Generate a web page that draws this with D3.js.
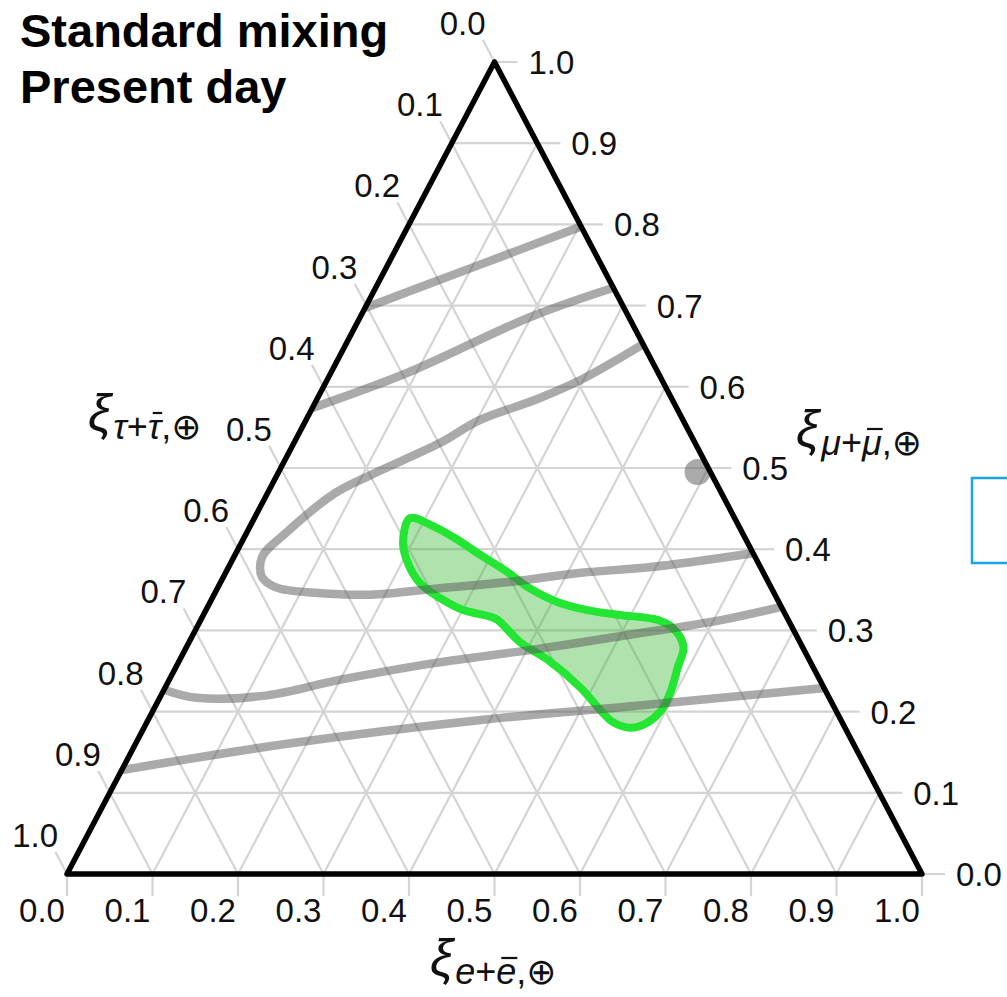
<!DOCTYPE html>
<html>
<head>
<meta charset="utf-8">
<script src="https://cdn.jsdelivr.net/npm/d3@7"></script>
<style>
  body { margin: 0; background: #fff; }
  svg { display: block; }
</style>
</head>
<body>
<div class="ternary"></div>
<script>
// all points are [xi_e, xi_mu], xi_tau = 1 - xi_e - xi_mu
const tickValues = [0.0, 0.1, 0.2, 0.3, 0.4, 0.5, 0.6, 0.7, 0.8, 0.9, 1.0];
const tickLabels = ["0.0", "0.1", "0.2", "0.3", "0.4", "0.5", "0.6", "0.7", "0.8", "0.9", "1.0"];
const titleLines = ["Standard mixing", "Present day"];

// gray flavor tracks
const track1 = [[0.0, 0.697], [0.103, 0.748], [0.204, 0.798]];
const track2 = [[0.0, 0.574], [0.089, 0.617], [0.199, 0.686], [0.278, 0.722]];
const track3 = [[0.346, 0.651], [0.296, 0.608], [0.256, 0.584], [0.203, 0.559], [0.171, 0.531],
  [0.109, 0.491], [0.079, 0.469], [0.046, 0.420], [0.033, 0.390], [0.045, 0.366],
  [0.068, 0.353], [0.121, 0.346], [0.183, 0.344], [0.260, 0.352], [0.340, 0.360],
  [0.416, 0.371], [0.494, 0.378], [0.605, 0.395]];
const track4 = [[0.0, 0.227], [0.043, 0.217], [0.124, 0.220], [0.199, 0.239], [0.301, 0.260],
  [0.405, 0.276], [0.507, 0.294], [0.610, 0.313], [0.671, 0.329]];
const track5 = [[0.0, 0.128], [0.181, 0.161], [0.392, 0.190], [0.551, 0.206], [0.771, 0.229]];
const tracks = [track1, track2, track3, track4, track5];

// green allowed region
const region = [[0.182, 0.438], [0.210, 0.430], [0.244, 0.415], [0.287, 0.393], [0.329, 0.372],
  [0.365, 0.352], [0.406, 0.335], [0.446, 0.325], [0.487, 0.319], [0.534, 0.313],
  [0.557, 0.303], [0.581, 0.280], [0.587, 0.255], [0.594, 0.223], [0.594, 0.200],
  [0.585, 0.186], [0.569, 0.180], [0.545, 0.187], [0.528, 0.198], [0.485, 0.230],
  [0.430, 0.264], [0.388, 0.285], [0.347, 0.313], [0.336, 0.317], [0.301, 0.325],
  [0.266, 0.340], [0.234, 0.358], [0.209, 0.381], [0.189, 0.408]];

const sourcePoint = [0.49, 0.495];

const width = 1007, height = 997;
const svg = d3.select(".ternary").append("svg")
  .attr("width", width)
  .attr("height", height)
  .attr("viewBox", [0, 0, width, height]);

const x = d3.scaleLinear().domain([0, 1]).range([67, 922]);
const y = d3.scaleLinear().domain([0, 1]).range([874, 62]);
const pt = ([e, mu]) => [x(e + mu / 2), y(mu)];
const line = d3.line().x(d => pt(d)[0]).y(d => pt(d)[1]);

const gridColor = "#d4d4d4";
const font = "'Liberation Sans', Arial, 'DejaVu Sans', sans-serif";
const L = 0.027; // tick length in ternary units

//GRID + TICKS
const grid = svg.append("g")
  .attr("stroke", gridColor)
  .attr("stroke-width", 2.2)
  .attr("fill", "none");

tickValues.forEach(v => {
  if (v > 0 && v < 1) {
    grid.append("path").attr("d", line([[0, v], [1 - v, v]]));      // const mu
    grid.append("path").attr("d", line([[v, 0], [v, 1 - v]]));      // const e
    grid.append("path").attr("d", line([[0, 1 - v], [1 - v, 0]])); // const tau
  }
  grid.append("path").attr("d", line([[1 - v, v], [1 - v + L, v]]));   // right
  grid.append("path").attr("d", line([[v, 0], [v + L / 2, -L]]));        // bottom
  grid.append("path").attr("d", line([[0, 1 - v], [-L, 1 - v + L]]));   // left
});

//LABELS
const labels = svg.append("g")
  .attr("font-family", font)
  .attr("font-size", 33)
  .attr("fill", "#111");

tickValues.forEach((v, i) => {
  const b = pt([v, 0]);
  labels.append("text").attr("x", b[0] - 25).attr("y", b[1] + 48)
    .attr("text-anchor", "middle").text(tickLabels[i]);
  const r = pt([1 - v, v]);
  labels.append("text").attr("x", r[0] + 34).attr("y", r[1] + 12)
    .text(tickLabels[i]);
  const l = pt([0, 1 - v]);
  labels.append("text").attr("x", l[0] - 9).attr("y", l[1] - 27)
    .attr("text-anchor", "end").text(tickLabels[i]);
});

//REGION
const regionLine = d3.line().x(d => pt(d)[0]).y(d => pt(d)[1]).curve(d3.curveCatmullRomClosed);
svg.append("path")
  .attr("d", regionLine(region))
  .attr("fill", "rgb(58,182,53)")
  .attr("fill-opacity", 0.4)
  .attr("stroke", "#22e632")
  .attr("stroke-width", 8)
  .attr("stroke-linejoin", "round");

//TRACKS
const trackLine = d3.line().x(d => pt(d)[0]).y(d => pt(d)[1]).curve(d3.curveCatmullRom);
svg.append("g")
  .selectAll("path")
  .data(tracks)
  .join("path")
  .attr("d", trackLine)
  .attr("fill", "none")
  .attr("stroke", "#555")
  .attr("stroke-opacity", 0.5)
  .attr("stroke-width", 8.5)
  .attr("stroke-linecap", "butt");

svg.append("circle")
  .attr("cx", pt(sourcePoint)[0])
  .attr("cy", pt(sourcePoint)[1])
  .attr("r", 13)
  .attr("fill", "#555")
  .attr("fill-opacity", 0.5);

//TRIANGLE
svg.append("path")
  .attr("d", line([[0, 0], [1, 0], [0, 1]]) + "Z")
  .attr("fill", "none")
  .attr("stroke", "#000")
  .attr("stroke-width", 5.5)
  .attr("stroke-linejoin", "round");

//AXIS TITLES  (letter, italic?, overbar?)
const axisTitles = [
  { x: 430, y: 976, sub: [["e", true, false], ["+", false, false], ["e", true, true], [",⊕", false, false]] },
  { x: 88, y: 431, sub: [["τ", true, false], ["+", false, false], ["τ", true, true], [",⊕", false, false]] },
  { x: 796, y: 447, sub: [["μ", true, false], ["+", false, false], ["μ", true, true], [",⊕", false, false]] }
];
axisTitles.forEach(t => {
  const txt = svg.append("text")
    .attr("x", t.x).attr("y", t.y)
    .attr("font-family", font)
    .attr("fill", "#111");
  txt.append("tspan").attr("font-size", 52).attr("font-style", "italic").text("ξ");
  t.sub.forEach((s, i) => {
    txt.append("tspan")
      .attr("dy", i == 0 ? 8 : null)
      .attr("dx", i == 0 ? 2 : null)
      .attr("font-size", 36)
      .attr("font-style", s[1] ? "italic" : "normal")
      .attr("class", s[2] ? "bar" : null)
      .text(s[0]);
  });
});

// overbars on the anti-particle letters
svg.selectAll("tspan.bar").each(function() {
  const n = this.getNumberOfChars();
  const start = this.getStartPositionOfChar(0);
  const end = this.getEndPositionOfChar(n - 1);
  svg.append("line")
    .attr("x1", start.x + 5).attr("x2", end.x + 1)
    .attr("y1", start.y - 26).attr("y2", start.y - 26)
    .attr("stroke", "#111")
    .attr("stroke-width", 2.2);
});

//TITLE
svg.append("g")
  .selectAll("text")
  .data(titleLines)
  .join("text")
  .attr("x", 20)
  .attr("y", (d, i) => 47 + i * 56)
  .attr("font-family", font)
  .attr("font-weight", "bold")
  .attr("font-size", 47)
  .attr("fill", "#000")
  .text(d => d);

// legend box, cut off at the right edge
svg.append("rect")
  .attr("x", 972).attr("y", 478)
  .attr("width", 80).attr("height", 85)
  .attr("fill", "none")
  .attr("stroke", "#1aa3e8")
  .attr("stroke-width", 2.5);
</script>
</body>
</html>
